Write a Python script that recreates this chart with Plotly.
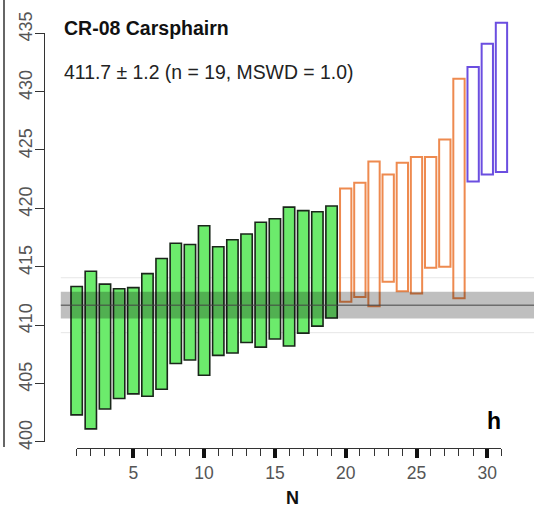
import plotly.graph_objects as go

# ---------------- data ----------------
green_n = list(range(1, 20))
green_lo = [402.3, 401.1, 402.8, 403.7, 404.1, 403.9, 404.5, 406.7, 407.0, 405.7,
            407.4, 407.6, 408.5, 408.1, 408.8, 408.2, 409.3, 409.9, 410.6]
green_hi = [413.3, 414.6, 413.5, 413.1, 413.2, 414.4, 415.7, 417.0, 416.9, 418.5,
            416.7, 417.3, 417.8, 418.8, 419.1, 420.1, 419.8, 419.7, 420.2]

orange_n = list(range(20, 29))
orange_lo = [412.0, 412.4, 411.6, 413.7, 412.9, 412.7, 414.9, 415.0, 412.3]
orange_hi = [421.7, 422.2, 424.0, 422.9, 423.9, 424.4, 424.4, 425.9, 431.1]

purple_n = [29, 30, 31]
purple_lo = [422.3, 422.9, 423.1]
purple_hi = [432.1, 434.1, 435.9]

mean_age = 411.7
mean_err = 1.15
outer_lo, outer_hi = 409.34, 414.05

y_ticks = [400, 405, 410, 415, 420, 425, 430, 435]
x_ticks = [5, 10, 15, 20, 25, 30]

title_text = "CR-08 Carsphairn"
subtitle_text = "411.7 ± 1.2 (n = 19, MSWD = 1.0)"
panel_label = "h"
x_title = "N"

# ---------------- layout geometry ----------------
W, H = 534, 517
PX_X1 = 76.66      # pixel of N = 1
PX_PER_N = 14.16
PX_Y400 = 441.7    # pixel of 400 Ma
PX_PER_MA = 11.67

x_range = [1 - PX_X1 / PX_PER_N, 1 + (W - PX_X1) / PX_PER_N]
y_range = [400 - (H - PX_Y400) / PX_PER_MA, 400 + PX_Y400 / PX_PER_MA]

FONT = "Liberation Sans, Arial, Helvetica, sans-serif"


def px(xp):
    return xp / W


def py(yp):
    return 1 - yp / H


def bars(n, lo, hi, fill, line, lw):
    return go.Bar(
        x=n, y=[h - l for l, h in zip(lo, hi)], base=lo, width=0.8,
        marker=dict(color=fill, line=dict(color=line, width=lw)),
        showlegend=False, hoverinfo="skip",
    )


fig = go.Figure()
fig.add_trace(bars(green_n, green_lo, green_hi, "#6CEB6C", "#1a261a", 1.6))
fig.add_trace(bars(orange_n, orange_lo, orange_hi, "rgba(0,0,0,0)", "#EE8A4F", 2))
fig.add_trace(bars(purple_n, purple_lo, purple_hi, "rgba(0,0,0,0)", "#6B4EE0", 2))

# invisible trace to carry the displayed axes
fig.add_trace(go.Scatter(x=[1, 31], y=[400, 435], xaxis="x2", yaxis="y2",
                         mode="markers", marker=dict(opacity=0),
                         showlegend=False, hoverinfo="skip"))

x0_band, x1_band = -0.12, 40
shapes = [
    dict(type="line", xref="x", yref="y", x0=x0_band, x1=x1_band, y0=outer_hi, y1=outer_hi,
         line=dict(color="#E6E6E6", width=1), layer="below"),
    dict(type="line", xref="x", yref="y", x0=x0_band, x1=x1_band, y0=outer_lo, y1=outer_lo,
         line=dict(color="#E6E6E6", width=1), layer="below"),
    dict(type="rect", xref="x", yref="y", x0=x0_band, x1=x1_band,
         y0=mean_age - mean_err, y1=mean_age + mean_err,
         fillcolor="rgba(0,0,0,0.25)", line=dict(width=0), layer="above"),
    dict(type="line", xref="x", yref="y", x0=x0_band, x1=x1_band, y0=mean_age, y1=mean_age,
         line=dict(color="#444444", width=1), layer="above"),
    dict(type="line", xref="paper", yref="paper", x0=px(4), x1=px(4), y0=py(0), y1=py(447),
         line=dict(color="#333333", width=1.5)),
]

annotations = [
    dict(text="<b>" + title_text + "</b>", x=px(62), y=py(28), xref="paper", yref="paper",
         xanchor="left", yanchor="middle", showarrow=False,
         font=dict(family=FONT, size=19.5, color="#111111")),
    dict(text=subtitle_text, x=px(62), y=py(72), xref="paper", yref="paper",
         xanchor="left", yanchor="middle", showarrow=False,
         font=dict(family=FONT, size=19.4, color="#222222")),
    dict(text="<b>" + x_title + "</b>", x=px(292), y=py(498), xref="paper", yref="paper",
         xanchor="center", yanchor="middle", showarrow=False,
         font=dict(family=FONT, size=18, color="#111111")),
    dict(text="<b>" + panel_label + "</b>", x=px(494), y=py(421), xref="paper", yref="paper",
         xanchor="center", yanchor="middle", showarrow=False,
         font=dict(family=FONT, size=23, color="#000000")),
]

fig.update_layout(
    width=W, height=H,
    margin=dict(l=0, r=0, t=0, b=0, autoexpand=False),
    paper_bgcolor="white", plot_bgcolor="rgba(0,0,0,0)",
    barmode="overlay",
    shapes=shapes, annotations=annotations,
    xaxis=dict(range=x_range, visible=False, domain=[0, 1], fixedrange=True, automargin=False),
    yaxis=dict(range=y_range, visible=False, domain=[0, 1], fixedrange=True, automargin=False),
    xaxis2=dict(
        domain=[px(PX_X1), px(PX_X1 + 30 * PX_PER_N)], range=[1, 31],
        anchor="free", position=py(447.5), showgrid=False, zeroline=False, automargin=False,
        showline=True, linecolor="#333333", linewidth=1,
        tickmode="array", tickvals=x_ticks, ticks="outside", ticklen=9, tickwidth=3.5,
        tickcolor="#111111",
        minor=dict(tickmode="linear", tick0=0, dtick=1, ticks="outside", ticklen=7,
                   tickwidth=1, tickcolor="#333333"),
        tickfont=dict(family=FONT, size=17.5, color="#555555"),
    ),
    yaxis2=dict(
        domain=[py(PX_Y400), py(PX_Y400 - 35 * PX_PER_MA)], range=[400, 435],
        anchor="free", position=px(44), side="left", showgrid=False, zeroline=False,
        automargin=False,
        showline=True, linecolor="#333333", linewidth=1,
        tickmode="array", tickvals=y_ticks, ticks="outside", ticklen=9, tickwidth=1,
        tickcolor="#333333", tickangle=-90, ticklabelstandoff=-4, ticklabelshift=-4,
        tickfont=dict(family=FONT, size=18, color="#555555"),
    ),
)

fig.write_html("out.html")
